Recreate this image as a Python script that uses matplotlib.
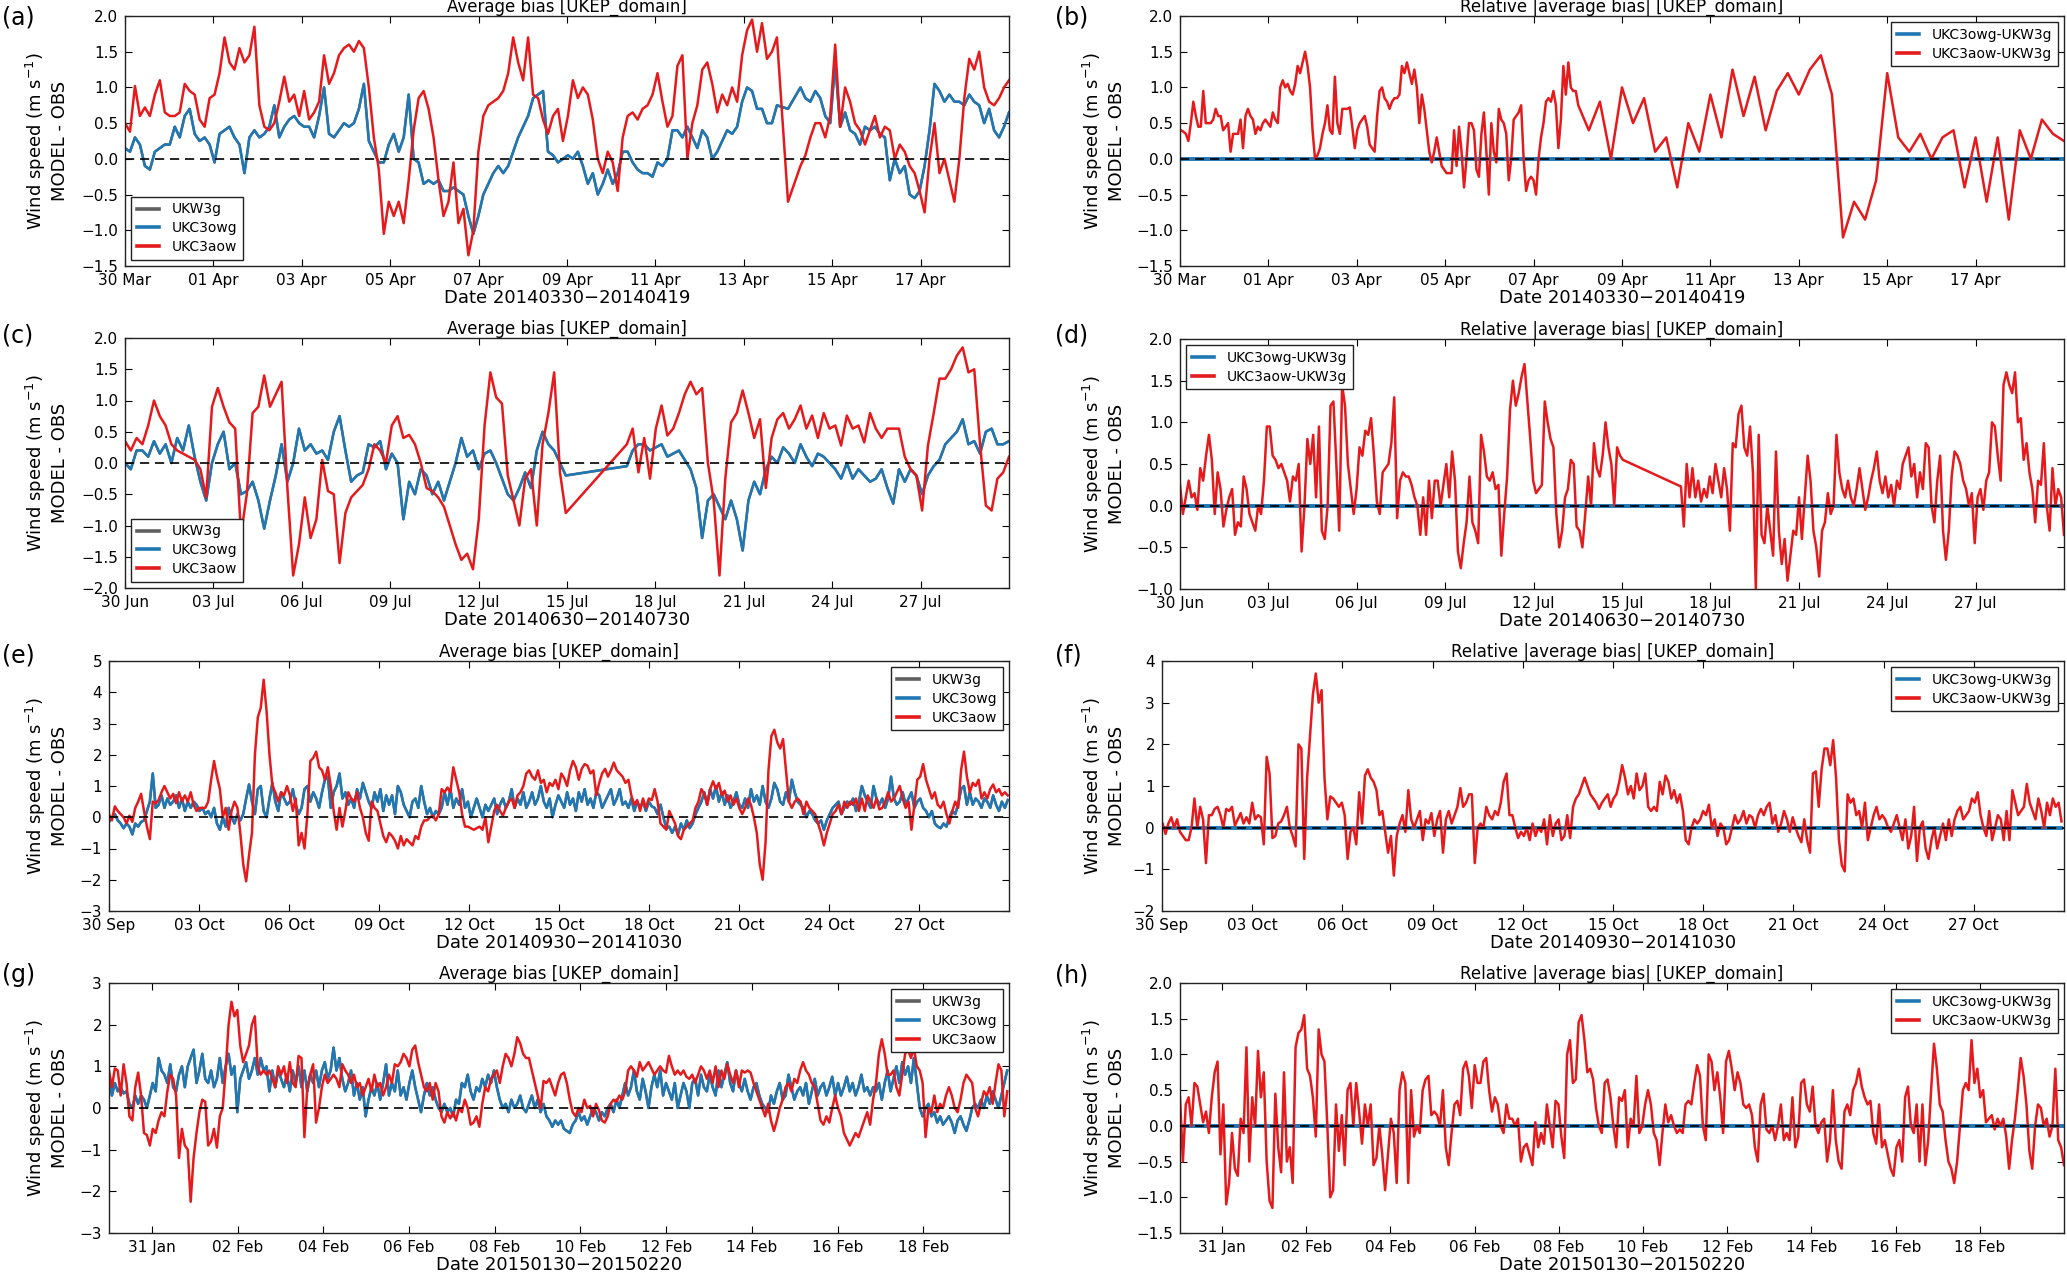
"""Wind-speed bias panels (average bias / relative |average bias|) for four periods."""

import matplotlib

matplotlib.use("Agg")
import matplotlib.dates as mdates
import matplotlib.pyplot as plt
import numpy as np
import pandas as pd
from matplotlib.ticker import MultipleLocator

W, H = 2067, 1272

COLORS = {"UKW3g": "#606060", "UKC3owg": "#1f77b4", "UKC3aow": "#e41a1c"}

# ---- data: domain-average bias (m/s) ----
# each series is a list of reading windows: (first time, last time, evenly spaced values)

# (a)/(b) 30 Mar - 19 Apr 2014
a_owg_1 = [0.15, 0.1, 0.3, 0.2, -0.1, -0.15, 0.1, 0.15, 0.2, 0.2, 0.45, 0.3, 0.6, 0.7, 0.35,
           0.25, 0.3, 0.2, -0.05, 0.35, 0.4, 0.45, 0.3, 0.2, -0.2, 0.3, 0.4, 0.3, 0.35, 0.45,
           0.75, 0.3, 0.45, 0.55, 0.6, 0.5, 0.45, 0.45, 0.3, 0.6, 1.0, 0.35, 0.3, 0.4, 0.5,
           0.45, 0.5, 0.7, 1.05, 0.25, 0.1, -0.05, -0.05, 0.2, 0.35, 0.1, 0.3, 0.9, 0.0, -0.05,
           -0.35, -0.3, -0.35, -0.3, -0.45, -0.45, -0.4, -0.45, -0.5, -0.8, -1.05, -0.8, -0.5,
           -0.35, -0.2, -0.1, -0.2, -0.1, 0.1, 0.3, 0.45, 0.6, 0.85, 0.9, 0.95, 0.1, 0.05,
           -0.05, 0.0, 0.05, 0.0, 0.1, -0.1, -0.35, -0.2, -0.5, -0.35, -0.15, -0.35, -0.2, 0.1,
           0.1, -0.05, -0.15, -0.2, -0.2, -0.25, -0.05, -0.1, 0.0, 0.4, 0.4, 0.3, 0.45, 0.3,
           0.15, 0.4, 0.3, 0.0, 0.1, 0.25, 0.4, 0.35, 0.45, 0.8, 1.0, 0.95, 0.7, 0.7, 0.5,
           0.5, 0.75]
a_owg_2 = [0.7]
a_owg_3 = [1.0, 0.85, 0.8, 0.95, 0.85, 0.6, 0.5, 1.35, 0.45, 0.65, 0.4, 0.35, 0.2, 0.45, 0.4,
           0.45, 0.35, 0.3, -0.3, 0.0, -0.2, -0.1, -0.5, -0.55, -0.45, -0.1, 0.4, 1.05, 0.95,
           0.8, 0.9, 0.8, 0.8, 0.75, 0.9, 0.8, 0.75, 0.5, 0.7, 0.4, 0.3, 0.45, 0.65]
a_aow_1 = [0.5, 0.38, 1.02, 0.6, 0.72, 0.6, 0.9, 1.1, 0.65, 0.6, 0.6, 0.65, 1.05, 0.95, 0.9,
           0.55, 0.45, 0.85, 0.9, 1.2, 1.7, 1.35, 1.25, 1.55, 1.35, 1.45, 1.85, 0.75, 0.45,
           0.4, 0.5, 0.8, 1.15, 0.8, 0.9, 0.6, 0.95, 0.55, 0.65, 0.8, 1.45, 1.05, 1.2, 1.45,
           1.55, 1.6, 1.5, 1.65, 1.55, 1.0, 0.3, -0.15, -1.05, -0.6, -0.8, -0.6, -0.9, -0.3,
           0.4, 0.85, 0.95, 0.7, 0.3, -0.3, -0.8, -0.6, -0.05, -0.9, -0.7, -1.35, -1.0, 0.1,
           0.6, 0.75, 0.8, 0.85, 0.95, 1.2, 1.7, 1.35, 1.1, 1.7, 0.9, 0.85, 0.55, 0.35, 0.6,
           0.7, 0.25, 0.6, 1.1, 0.85, 1.0, 0.9, 0.55, 0.0, -0.2, 0.1, -0.05, -0.45, 0.3, 0.6,
           0.65, 0.55, 0.7, 0.75, 0.9, 1.2, 0.8, 0.45, 0.6, 1.3, 1.45, 0.0, 0.5, 0.75, 1.25,
           1.35, 1.05, 0.65, 0.9, 0.75, 1.0, 0.8, 1.45, 1.8, 1.95, 1.5, 1.9, 1.4, 1.5, 1.7]
a_aow_2 = [-0.6]
a_aow_3 = [-0.1, 0.05, 0.3, 0.5, 0.5, 0.3, 0.6, 1.6, 0.45, 1.0, 0.8, 0.5, 0.4, 0.2, 0.4, 0.6,
           0.3, 0.45, 0.4, 0.0, 0.2, 0.1, -0.1, -0.2, -0.45, -0.75, 0.0, 0.5, -0.2, 0.0, -0.3,
           -0.6, 0.0, 0.85, 1.4, 1.25, 1.5, 1.0, 0.8, 0.75, 0.85, 1.0, 1.1]
b_aow_1 = [0.4, 0.38, 0.35, 0.25, 0.5, 0.8, 0.6, 0.45, 0.45, 0.95, 0.5, 0.5, 0.5, 0.55, 0.7,
           0.6, 0.6, 0.4, 0.45, 0.5, 0.1, 0.35, 0.35, 0.35, 0.55, 0.15, 0.6, 0.7, 0.6, 0.55,
           0.35, 0.45, 0.4, 0.5, 0.55, 0.5, 0.45, 0.65, 0.55, 0.5, 1.0, 1.1, 1.0, 1.05, 0.95,
           0.9, 1.05, 1.3, 1.2, 1.35, 1.5, 1.3, 1.0, 0.4, 0.0, 0.05, 0.15, 0.35, 0.5, 0.75,
           0.4, 0.35, 1.15, 0.5, 0.35, 0.7, 0.7, 0.7, 0.72, 0.45, 0.15, 0.4, 0.5, 0.55, 0.6,
           0.45, 0.2, 0.15, 0.1, 0.6, 0.95, 1.0, 0.85, 0.8, 0.7, 0.8, 0.85, 0.85, 0.9, 1.3,
           1.2, 1.35, 1.2, 1.05, 1.25, 1.0, 0.5, 0.9, 0.7, 0.4, 0.1, -0.05, 0.1, 0.3, 0.1,
           -0.1, -0.15, -0.2, -0.2, -0.2, 0.4, -0.1, 0.45, 0.1, -0.4, 0.0, 0.5, 0.5, 0.4,
           -0.15, -0.25, 0.35, 0.65, 0.1, -0.5, 0.5, 0.1, -0.05, 0.7, 0.55, 0.5, 0.35, -0.3,
           0.0, 0.55, 0.6, 0.65, 0.75, 0.0, -0.45, -0.3, -0.25, -0.3, -0.5, 0.0, 0.3, 0.5,
           0.8, 0.85, 0.8, 0.95, 0.75, 0.15, 0.55, 1.3, 0.9, 1.35, 1.0, 0.95, 0.95, 0.75]
b_aow_2 = [0.4, 0.8, 0.0, 1.0, 0.5, 0.85, 0.1, 0.3, -0.4, 0.5, 0.1, 0.9, 0.3, 1.25, 0.6, 1.15,
           0.4, 0.95, 1.2, 0.9, 1.25, 1.45, 0.9, -1.1, -0.6, -0.85, -0.3, 1.2, 0.3, 0.1, 0.35,
           0.0, 0.3, 0.4, -0.4, 0.3, -0.6, 0.3, -0.85, 0.4, 0.0, 0.55, 0.35, 0.25]

# (c)/(d) 30 Jun - 30 Jul 2014, with no data from 15 Jul to 17 Jul
c_owg_1 = [0.0, -0.1, 0.2, 0.2, 0.1, 0.35, 0.15, 0.3, 0.0, 0.4, 0.2, 0.6, 0.1, -0.3, -0.6, 0.0,
           0.3, 0.5, -0.1, 0.0, -0.5, -0.45, -0.3, -0.6, -1.05, -0.6, -0.2, 0.3, -0.3, 0.0,
           0.55, 0.2, 0.3, 0.15, 0.2, 0.05, 0.5, 0.75, 0.2, -0.3, -0.2, -0.15, 0.3, 0.25, 0.35,
           -0.1, 0.15, 0.0, -0.9, -0.3, -0.5, -0.1, -0.2, -0.5, -0.3, -0.6, -0.3, 0.0, 0.4, 0.1,
           0.2, -0.1, 0.15, 0.2, 0.0, -0.25, -0.5, -0.6, -0.4, -0.15, -0.4, 0.2, 0.5, 0.3, 0.2,
           0.0, -0.2]
c_owg_2 = [-0.05, 0.2, 0.3, 0.3, 0.2, 0.25, 0.3, 0.1, 0.15, 0.2, 0.05, -0.1, -0.4, -1.2, -0.6,
           -0.5, -0.7, -0.9, -0.6, -0.9, -1.4, -0.6, -0.3, -0.5, -0.1, 0.1, 0.0, 0.25, 0.15, 0.0,
           0.3, 0.1, -0.05, 0.15, 0.1, 0.0, -0.1, -0.25, 0.0, -0.25, -0.1, -0.2, -0.3, -0.25,
           -0.1, -0.4, -0.65, -0.1, -0.3, -0.1, -0.2, -0.5, -0.2, -0.05, 0.05, 0.3, 0.4, 0.5,
           0.7, 0.3, 0.35, 0.15, 0.5, 0.55, 0.3, 0.3, 0.35]
c_aow_1 = [0.35, 0.2, 0.4, 0.3, 0.6, 1.0, 0.75, 0.6, 0.3, 0.2, 0.15, 0.1, 0.05, -0.1, -0.55,
           0.9, 1.2, 0.9, 0.65, 0.55, -1.15, -0.5, 0.8, 0.9, 1.4, 0.9, 1.1, 1.3, -0.4, -1.8,
           -1.3, -0.55, -1.2, -0.9, 0.05, -0.45, -0.5, -1.6, -0.8, -0.55, -0.45, -0.35, -0.1,
           0.3, 0.2, 0.0, 0.6, 0.75, 0.4, 0.45, 0.3, 0.0, -0.4, -0.45, -0.55, -0.7, -1.0, -1.3,
           -1.55, -1.45, -1.7, -0.9, 0.6, 1.45, 1.05, 0.95, -0.2, -0.6, -1.0, -0.25, -0.1, -1.0,
           0.3, 0.8, 1.45, -0.15, -0.8]
c_aow_2 = [0.3, 0.55, -0.15, 0.4, -0.25, 0.55, 0.92, 0.44, 0.55, 0.8, 1.1, 1.3, 1.1, 1.2, 0.0,
           -0.6, -1.8, -0.25, 0.65, 0.8, 1.16, 0.8, 0.4, 0.7, -0.4, 0.4, 0.7, 0.8, 0.55, 0.7,
           0.92, 0.55, 0.76, 0.4, 0.8, 0.55, 0.6, 0.28, 0.76, 0.55, 0.6, 0.33, 0.8, 0.55, 0.4,
           0.55, 0.55, 0.55, 0.1, -0.1, -0.2, -0.76, 0.28, 0.8, 1.35, 1.35, 1.5, 1.72, 1.85,
           1.45, 1.5, 0.3, -0.68, -0.76, -0.25, -0.15, 0.1]
d_aow_1 = [0.25, -0.1, 0.1, 0.3, 0.1, 0.15, -0.05, 0.45, 0.3, 0.6, 0.85, 0.55, -0.1, 0.4, 0.2,
           -0.25, -0.05, 0.1, 0.2, -0.35, -0.2, -0.25, 0.35, 0.2, -0.1, -0.2, -0.3, 0.0, -0.1,
           0.3, 0.95, 0.95, 0.6, 0.55, 0.45, 0.5, 0.4, 0.3, 0.05, 0.35, 0.3, 0.5, -0.55, 0.0,
           0.8, 0.5, 0.85, 0.1, 0.95, -0.3, -0.4, 0.0, 1.2, 1.25, 0.5, -0.3, 1.45, 1.2, 0.5,
           0.2, -0.1, 0.2, 0.7, 0.6, 0.9, 0.85, 1.05, 0.6, 0.05, -0.1, 0.4, 0.45, 0.5, 0.75,
           1.3, -0.15, 0.3, 0.4, 0.35, 0.35, 0.25, 0.1, 0.0, -0.35, 0.1, -0.35, 0.3, -0.15,
           0.3, 0.3, 0.0, 0.25, 0.5, 0.1, 0.65, 0.3, -0.55, -0.75, -0.45, -0.2, 0.35, -0.2,
           -0.3, -0.45, 0.85, 0.65, 0.35, 0.3, 0.4, 0.2, 0.25, -0.6, -0.1, 0.35, 1.15, 1.5,
           1.2, 1.35, 1.55, 1.7, 1.25, 0.8, 0.3, 0.15, 0.2, 0.25, 1.25, 1.0, 0.8, 0.7, -0.1,
           -0.5, -0.3, 0.1, 0.2, 0.55, 0.5, -0.25, -0.3, -0.5, -0.1, 0.35, 0.0, 0.75, 0.45,
           0.35, 0.6, 1.0, 0.7, 0.5, 0.0, 0.7, 0.6, 0.55]
d_aow_2 = [0.23, -0.25, 0.5, 0.1, 0.45, 0.1, 0.3, 0.05, 0.2, 0.1, 0.35, 0.15, 0.5, 0.3, 0.1,
           0.45, 0.2, -0.3, 0.75, 0.7, 1.1, 1.2, 0.7, 0.6, 0.95, 0.4, -1.0, 0.85, -0.35, -0.45,
           0.0, -0.3, -0.6, 0.65, -0.3, -0.7, -0.4, -0.9, -0.6, -0.3, -0.35, 0.1, -0.4, 0.1,
           0.6, 0.3, -0.3, -0.5, -0.85, -0.3, -0.2, 0.15, -0.1, 0.0, 0.85, 0.4, 0.2, 0.1, 0.3,
           0.1, 0.0, 0.2, 0.45, 0.2, -0.05, 0.1, 0.3, 0.45, 0.65, 0.3, 0.15, 0.35, 0.1, 0.25,
           0.0, 0.3, 0.2, 0.5, 0.6, 0.7, 0.35, 0.5, 0.1, 0.4, 0.2, 0.75, 0.7, 0.0, -0.2, 0.3,
           0.6, -0.3, -0.65, -0.3, 0.35, 0.65, 0.6, 0.5, 0.3, 0.2, 0.0, 0.15, -0.45, 0.1, 0.2,
           -0.05, 0.3, 0.4, 1.0, 0.95, 0.6, 0.3, 1.45, 1.6, 1.45, 1.35, 1.6, 1.0, 1.05, 0.55,
           0.75, 0.4, 0.2, -0.2, 0.3, 0.25, 0.75, 0.0, -0.3, 0.45, 0.0, 0.2, 0.1, -0.35]

# (e)/(f) 30 Sep - 30 Oct 2014
e_owg = [-0.15, 0.0, 0.1, -0.1, -0.2, -0.35, -0.2, -0.3, -0.55, -0.2, -0.3, -0.15, -0.1, 0.2,
         0.5, 1.4, 0.3, 0.4, 0.7, 0.3, 0.6, 0.4, 0.5, 0.7, 0.3, 0.6, 0.2, 0.5, 0.3, 0.5, 0.4,
         0.2, 0.3, 0.1, 0.2, 0.0, 0.3, -0.2, -0.4, 0.0, -0.3, 0.3, 0.0, -0.2, 0.1, -0.1, 0.1,
         0.6, 1.05, 0.5, 0.1, 0.9, 1.0, 0.2, 0.0, 0.6, 1.1, 0.5, 0.2, 0.8, 0.6, 0.4, 0.5, 0.9,
         0.4, 0.1, 0.3, 0.9, 1.0, 0.5, 0.8, 0.6, 0.3, 0.8, 1.2, 1.3, 0.3, 0.8, 1.0, 1.4, 0.6,
         0.8, 0.4, 0.6, 0.3, 0.9, 0.6, 1.1, 0.8, 0.5, 0.3, 0.8, 0.5, 0.9, 0.2, 0.7, 0.4, 0.7,
         0.1, 1.0, 0.8, 0.4, 0.2, 0.0, 0.5, 0.6, 0.3, 1.0, 0.5, 0.1, 0.3, 0.0, 0.2, 0.1, 0.3,
         0.8, 0.4, 0.9, 0.3, 0.6, 0.4, 0.9, 0.3, 0.5, 0.0, 0.3, 0.6, 0.3, 0.0, 0.4, 0.2, 0.4,
         0.6, 0.1, 0.4, 0.6, 0.3, 0.5, 0.9, 0.3, 0.6, 0.4, 0.8, 0.3, 0.5, 0.8, 0.4, 0.6, 1.0,
         0.5, 0.3, 0.6, 0.0, 0.4, 0.7, 0.5, 0.3, 0.8, 0.4, 0.6, 0.2, 0.8, 0.5, 0.9, 0.4, 0.6,
         0.3, 0.8, 0.7, 0.3, 0.5, 0.7, 0.9, 0.4, 0.6, 0.9, 0.4, 0.5, 0.3, 0.6, 0.2, 0.5, 0.3,
         0.5, 0.2, 0.5, 0.35, 0.3, 0.1, 0.4, 0.0, -0.35, -0.3, -0.5, -0.3, -0.55, -0.2, -0.4,
         -0.1, -0.35, -0.2, 0.1, 0.3, 0.5, 0.8, 0.4, 0.9, 0.6, 1.0, 0.5, 0.8, 0.4, 0.7, 0.3,
         0.5, 0.8, 0.4, 0.3, 0.6, 0.3, 0.9, 0.5, 0.7, 0.4, 1.0, 0.5, 0.3, 0.6, 1.1, 0.9, 0.5,
         0.4, 0.8, 0.5, 1.2, 0.8, 0.5, 0.4, 0.3, 0.0, 0.2, 0.1, -0.1, -0.2, -0.1, -0.4, -0.1,
         0.1, 0.3, 0.4, 0.5, 0.1, 0.3, 0.5, 0.4, 0.6, 0.2, 0.5, 1.0, 0.7, 0.5, 0.3, 1.0, 0.6,
         0.4, 0.6, 0.3, 0.6, 1.3, 0.6, 0.4, 0.5, 0.8, 0.4, 0.6, 0.8, 0.3, 0.5, 0.6, 0.3, 0.2,
         0.0, 0.2, -0.2, -0.3, -0.35, -0.2, -0.3, 0.0, 0.2, 0.1, 0.4, 0.9, 1.0, 0.4, 0.8, 0.4,
         0.6, 0.5, 0.3, 0.6, 0.5, 0.3, 0.7, 0.4, 0.2, 0.5, 0.3, 0.55]
e_aow = [0.1, -0.1, 0.35, 0.2, 0.1, 0.0, -0.2, 0.05, -0.15, 0.3, 0.5, 0.75, 0.2, -0.3, -0.7,
         0.5, 0.45, 0.55, 0.8, 1.0, 0.8, 0.6, 0.75, 0.45, 0.8, 0.5, 0.7, 0.5, 0.8, 0.4, 0.2,
         0.3, 0.3, 0.3, 0.5, 1.2, 1.8, 1.3, 0.9, 0.0, 0.3, -0.4, 0.2, 0.5, 0.3, -0.5, -1.5,
         -2.05, -1.2, -0.5, 2.0, 3.2, 3.5, 4.4, 3.4, 2.0, 1.0, 0.8, 0.5, 0.8, 0.7, 1.0, 0.7,
         0.2, 0.6, -0.9, -0.5, -1.0, 0.1, 1.8, 1.9, 2.1, 1.6, 1.5, 1.2, 1.6, 1.0, 0.2, -0.4,
         0.3, -0.3, 0.2, 0.8, 0.6, 0.5, 0.8, 0.3, 0.0, -0.5, -0.75, 0.5, 0.3, 0.2, -0.2, -0.6,
         -0.8, -0.5, -0.6, -0.75, -1.0, -0.6, -0.9, -0.7, -0.8, -0.9, -0.6, -0.7, -0.3, -0.1,
         -0.1, 0.0, 0.05, -0.1, 0.1, 0.9, 0.8, 0.95, 0.8, 1.6, 1.2, 0.8, 0.1, -0.3, -0.3,
         -0.35, -0.4, -0.35, -0.3, -0.4, 0.0, -0.8, -0.3, 0.2, 0.4, 0.2, 0.05, 0.3, 0.5, 0.6,
         0.3, 0.7, 0.8, 1.0, 1.4, 1.5, 1.3, 1.2, 1.5, 1.1, 1.2, 0.8, 1.1, 1.0, 1.2, 0.9, 1.4,
         1.25, 1.0, 1.5, 1.8, 1.6, 1.2, 1.55, 1.7, 1.65, 1.4, 1.5, 0.7, 1.1, 1.4, 1.55, 1.3,
         1.5, 1.75, 1.5, 1.4, 1.3, 1.1, 1.2, 0.7, 0.4, 0.55, 0.2, 0.6, 0.3, 0.6, 0.55, 0.9,
         0.5, -0.2, -0.3, -0.4, 0.2, 0.0, -0.2, -0.6, -0.7, -0.4, -0.3, -0.2, -0.1, 0.3, 0.5,
         0.9, 0.75, 0.4, 0.9, 1.15, 0.9, 1.1, 0.7, 0.85, 0.5, 0.7, 0.4, 0.6, 0.3, 0.1, 0.3,
         0.6, 0.4, 0.0, -0.5, -1.5, -2.0, -0.8, 1.5, 2.6, 2.8, 2.4, 2.2, 2.5, 1.5, 0.5, 0.3,
         0.5, 0.6, 0.5, 0.1, 0.5, 0.3, 0.2, 0.1, -0.2, -0.5, -0.9, -0.5, -0.2, 0.1, 0.2, 0.4,
         0.1, 0.5, 0.3, 0.5, 0.4, 0.6, 0.2, 0.6, 0.2, 0.7, 0.5, 0.3, 0.6, 0.25, 0.3, 0.5, 0.8,
         0.5, 0.6, 0.8, 1.0, 0.6, 0.3, 0.5, -0.4, 0.4, 1.2, 1.3, 1.7, 1.2, 0.9, 0.6, 0.8, 0.4,
         0.3, 0.5, 0.1, -0.2, 0.2, 0.5, 0.3, 1.5, 2.1, 1.3, 0.8, 1.1, 1.0, 1.2, 0.6, 0.8, 0.6,
         0.9, 1.05, 0.8, 0.9, 0.7, 0.8, 0.7]
f_aow = [0.1, -0.15, 0.1, 0.25, 0.0, 0.2, -0.1, -0.2, -0.3, -0.3, 0.0, 0.7, 0.0, 0.5, 0.2,
         -0.85, 0.3, 0.3, 0.45, 0.5, 0.3, 0.0, 0.45, 0.4, 0.5, 0.05, 0.2, 0.35, 0.1, 0.25,
         0.1, 0.6, 0.2, 0.3, 0.25, -0.4, 1.7, 1.3, -0.25, -0.2, 0.1, 0.15, 0.3, 0.5, 0.0,
         -0.2, -0.45, 2.0, 1.9, -0.75, 1.2, 2.2, 3.2, 3.7, 3.0, 3.3, 1.2, 0.2, 0.75, 0.7, 0.6,
         0.5, 0.6, 0.3, -0.75, -0.1, 0.0, -0.4, 0.85, 0.1, 1.25, 1.4, 1.2, 1.1, 0.9, 0.3, 0.4,
         -0.1, -0.6, -0.2, -1.15, -0.2, 0.1, 0.3, -0.1, 0.9, 0.2, 0.0, 0.2, 0.4, -0.3, 0.2,
         0.1, 0.35, -0.2, 0.2, 0.4, -0.6, 0.2, 0.4, 0.1, 0.3, 0.5, 0.95, 0.5, 0.6, 0.8, 0.8,
         -0.85, 0.0, 0.1, 0.0, 0.5, 0.3, 0.2, 0.4, 0.3, 0.6, 1.1, 1.3, 0.3, 0.3, 0.0, -0.25,
         -0.1, -0.2, 0.0, -0.3, 0.1, -0.2, 0.0, -0.1, 0.2, -0.4, 0.3, -0.2, 0.1, 0.2, -0.3,
         -0.2, 0.3, -0.25, 0.5, 0.7, 0.8, 1.0, 1.2, 1.0, 0.8, 0.7, 0.6, 0.45, 0.6, 0.7, 0.8,
         0.5, 0.7, 0.8, 1.1, 1.5, 1.2, 0.8, 1.0, 0.7, 1.3, 0.9, 1.0, 1.3, 0.5, 0.4, 0.5, 0.4,
         1.1, 0.8, 1.25, 1.1, 0.7, 0.9, 0.6, 0.8, 0.4, -0.3, -0.4, 0.0, 0.2, 0.1, 0.2, 0.4,
         0.3, 0.55, 0.0, 0.2, -0.2, 0.1, 0.0, -0.4, -0.3, 0.0, 0.3, 0.1, 0.2, 0.4, 0.1, 0.3,
         0.25, 0.0, 0.3, 0.45, 0.3, 0.5, 0.6, 0.1, 0.3, -0.1, 0.1, 0.4, 0.2, -0.1, 0.25, 0.0,
         -0.2, -0.35, 0.2, -0.3, -0.6, 1.3, 1.35, 0.5, 1.4, 1.9, 1.9, 1.5, 2.1, 1.2, -0.3,
         -0.9, -1.05, 0.8, 0.6, 0.7, 0.3, 0.4, 0.0, 0.6, -0.3, 0.0, 0.3, 0.5, 0.2, 0.3, 0.2,
         0.0, -0.1, 0.1, 0.3, 0.0, -0.3, 0.2, -0.5, -0.2, 0.5, -0.8, 0.0, 0.15, -0.5, -0.75,
         -0.3, 0.0, -0.5, -0.2, 0.1, -0.3, 0.2, -0.2, 0.2, 0.4, 0.5, 0.2, 0.3, 0.4, 0.7, 0.6,
         0.85, 0.3, 0.0, -0.2, 0.4, -0.3, 0.0, 0.3, 0.2, -0.3, 0.4, -0.3, 0.9, 0.6, 0.3, 0.4,
         0.5, 1.05, 0.6, 0.4, 0.2, 0.7, 0.4, 0.0, 0.6, 0.3, 0.7, 0.5, 0.6, 0.15]

# (g)/(h) 30 Jan - 20 Feb 2015
g_owg = [0.8, 0.3, 0.6, 0.4, 0.5, 0.35, 0.4, 0.1, 0.0, 0.3, 0.1, 0.3, 0.2, 0.0, 0.3, 0.6, 0.4,
         1.2, 0.9, 0.8, 0.6, 1.05, 0.5, 0.4, 0.8, 1.0, 0.5, 1.0, 1.2, 1.4, 0.6, 0.9, 1.3, 0.7,
         0.6, 0.9, 0.5, 0.7, 1.2, 0.6, 1.0, 1.3, 0.8, 1.0, -0.1, 0.7, 0.9, 1.1, 0.7, 0.9, 1.2,
         0.8, 1.2, 0.9, 1.0, 0.4, 0.9, 0.5, 0.9, 0.7, 0.5, 0.8, 0.4, 0.9, 0.6, 1.0, 0.5, 0.9,
         0.4, 0.8, 0.6, 0.9, 0.5, 0.9, 1.1, 0.7, 0.9, 1.45, 0.9, 1.2, 0.7, 0.4, 0.6, 0.9, 0.3,
         0.6, 0.2, 0.5, -0.2, 0.2, 0.5, 0.3, 0.6, 0.2, 0.6, 1.05, 0.3, 0.6, 0.4, 0.9, 0.3, 0.5,
         0.2, 0.6, 0.9, 0.5, 0.2, -0.1, 0.3, 0.6, 0.3, 0.5, 0.2, 0.0, -0.1, 0.1, -0.1, 0.0,
         -0.2, 0.2, 0.1, 0.6, 0.5, 0.8, 0.4, 0.2, 0.5, 0.4, 0.7, 0.5, 0.8, 0.6, 0.9, 0.5, 0.2,
         0.0, 0.1, -0.1, 0.2, 0.0, 0.1, 0.3, 0.0, -0.1, 0.1, 0.3, 0.0, 0.2, -0.1, 0.1, -0.2,
         -0.3, -0.45, -0.3, -0.4, -0.3, -0.5, -0.55, -0.6, -0.4, -0.3, -0.1, -0.3, -0.2, -0.4,
         -0.2, 0.0, -0.1, -0.3, -0.1, -0.2, 0.0, 0.1, -0.1, 0.2, 0.0, 0.3, 0.6, 0.3, 0.5, 0.9,
         0.4, 0.2, 0.7, 0.4, 0.0, 0.5, 0.8, 0.5, 0.9, 0.3, 0.6, 0.4, 0.2, 0.6, 0.0, 0.3, 0.6,
         0.4, 0.0, 0.6, 0.7, 0.3, 0.8, 0.5, 0.4, 0.8, 0.5, 0.3, 0.9, 0.5, 0.8, 1.1, 0.6, 0.4,
         0.9, 0.6, 0.4, 0.7, 0.4, 0.2, 0.5, 0.6, 0.3, 0.1, 0.0, -0.1, 0.3, 0.1, 0.4, 0.6, 0.2,
         0.3, 0.8, 0.5, 0.2, 0.4, 0.5, 0.3, 0.6, 0.1, 0.4, 0.7, 0.3, 0.5, 0.6, 0.3, 0.5, 0.75,
         0.3, 0.6, 0.3, 0.5, 0.75, 0.4, 0.6, 0.3, 0.5, 0.8, 0.4, 0.5, 0.3, 0.5, 0.4, 0.6, 0.2,
         0.6, 0.9, 0.4, 0.7, 1.0, 0.6, 1.1, 0.8, 1.0, 0.6, 1.2, 0.6, 0.0, -0.2, 0.0, 0.1,
         -0.2, -0.1, -0.35, -0.2, -0.4, -0.3, -0.2, -0.35, -0.6, -0.3, -0.2, -0.4, -0.55, -0.3,
         0.0, 0.1, 0.0, 0.2, 0.0, 0.3, 0.1, 0.4, 0.2, 0.0, 0.3, 0.6, 0.9]
g_aow = [0.9, 0.5, 0.95, 0.9, 0.3, 1.05, 0.6, -0.2, -0.3, 0.5, 0.85, 0.3, -0.6, -0.65, -0.9,
         -0.5, -0.6, -0.3, -0.1, -0.2, 0.4, 0.8, 0.7, 0.3, -1.2, -0.5, -0.9, -1.0, -2.25, -1.2,
         -0.6, -0.1, 0.2, 0.15, -0.9, -0.8, -0.5, -0.95, -0.2, 0.0, 0.9, 2.0, 2.55, 2.2, 2.35,
         1.5, 1.1, 1.3, 1.5, 2.0, 2.2, 1.0, 0.8, 0.9, 0.8, 0.9, 0.7, 0.5, 1.0, 0.8, 1.0, 0.6,
         1.1, 0.6, 0.5, 1.25, 1.2, -0.7, 0.5, 0.8, 1.05, -0.35, 0.0, 0.5, 0.8, 0.6, 0.7, 0.8,
         0.7, 0.5, 1.05, 0.9, 0.8, 0.6, 0.8, 0.5, 0.6, 0.3, 0.5, 0.7, 0.4, 0.8, 0.5, 0.6, 0.3,
         0.5, 0.8, 0.6, 1.05, 1.0, 1.1, 1.3, 1.2, 1.0, 1.4, 1.5, 1.1, 0.8, 0.5, 0.4, 0.6, 0.2,
         0.6, 0.4, -0.2, -0.35, -0.1, -0.25, -0.1, -0.3, 0.0, -0.1, 0.2, 0.0, -0.4, -0.35,
         -0.2, -0.45, 0.1, 0.5, 0.4, 0.7, 0.8, 0.9, 0.6, 1.0, 1.3, 1.2, 1.0, 1.3, 1.7, 1.55,
         1.3, 1.2, 1.2, 0.9, 0.6, 0.3, 0.0, 0.65, 0.6, 0.7, 0.5, 0.3, 0.6, 0.8, 0.85, 0.6, 0.2,
         -0.1, -0.2, 0.0, -0.1, 0.2, 0.0, 0.05, -0.2, 0.1, -0.05, -0.3, -0.35, -0.2, 0.1, 0.2,
         0.15, 0.3, 0.2, 0.4, 0.9, 1.0, 0.9, 0.75, 1.1, 0.9, 1.0, 1.1, 0.95, 0.8, 0.9, 1.0,
         0.9, 0.85, 1.25, 1.0, 0.8, 0.9, 0.8, 0.9, 0.75, 0.7, 0.8, 0.6, 0.8, 1.0, 0.9, 0.7,
         0.9, 0.6, 1.0, 0.5, 0.9, 0.7, 1.05, 0.8, 0.6, 0.9, 0.5, 0.9, 0.85, 0.9, 0.85, 0.6,
         0.4, 0.2, 0.0, -0.2, 0.1, -0.3, -0.55, -0.3, 0.0, 0.2, 0.5, 0.6, 0.4, 0.7, 0.6, 0.9,
         1.1, 0.9, 0.8, 0.6, 0.5, 0.1, -0.3, -0.4, -0.2, -0.35, 0.0, 0.3, 0.0, -0.2, -0.6,
         -0.75, -0.9, -0.75, -0.6, -0.7, -0.5, -0.3, -0.1, -0.4, 0.2, 0.6, 1.3, 1.65, 1.3, 0.8,
         0.8, 0.9, 0.5, 0.3, 0.8, 1.3, 1.4, 1.2, 1.45, 1.0, 0.9, 0.6, -0.7, 0.0, -0.1, 0.3,
         -0.1, 0.1, 0.0, 0.3, 0.5, 0.3, 0.0, -0.1, 0.2, 0.6, 0.8, 0.7, 0.6, 0.0, -0.2, 0.1,
         0.4, 0.3, 0.5, 0.1, 0.6, 1.05, 0.9, -0.2, 0.4]
h_aow = [0.4, -0.5, 0.3, 0.4, 0.0, 0.6, 0.55, 0.3, 0.05, 0.2, -0.1, 0.4, 0.75, 0.9, -0.4, 0.3,
         -1.1, -0.8, -0.1, -0.6, -0.7, 0.1, -0.1, 1.1, -0.5, 0.4, 0.0, 1.05, 0.4, 0.75, -0.5,
         -1.05, -1.15, 0.45, -0.3, -0.65, 0.75, -0.5, -0.3, -0.8, 1.1, 1.3, 1.35, 1.55, 0.8,
         0.7, 0.4, -0.15, 1.35, 1.0, 0.9, 0.0, -1.0, -0.9, 0.3, -0.35, 0.15, -0.55, 0.5, 0.6,
         0.0, 0.6, 0.2, -0.25, 0.3, 0.0, 0.3, -0.55, -0.45, 0.0, -0.4, -0.9, -0.4, 0.1, -0.1,
         -0.8, 0.5, 0.75, 0.6, -0.8, 0.5, -0.15, 0.0, -0.1, 0.5, 0.65, 0.7, 0.15, 0.2, 0.15,
         0.0, 0.5, -0.3, -0.55, -0.1, 0.3, 0.35, 0.15, 0.8, 0.9, 0.7, 0.25, 0.85, 0.6, 0.6,
         0.9, 0.95, 0.5, 0.2, 0.4, 0.3, 0.0, -0.1, 0.3, 0.1, 0.1, 0.0, 0.1, -0.5, -0.3, -0.25,
         -0.4, -0.55, 0.05, -0.3, -0.1, -0.25, 0.3, 0.0, -0.3, 0.35, 0.3, -0.15, -0.45, 1.0,
         1.2, 0.6, 0.65, 1.45, 1.55, 1.2, 0.75, 0.8, 0.65, 0.25, 0.0, -0.1, 0.6, 0.65, 0.4,
         0.0, -0.3, 0.4, 0.35, 0.5, -0.3, 0.1, 0.0, 0.7, -0.1, 0.0, 0.3, 0.5, 0.3, -0.1, -0.2,
         -0.55, -0.1, 0.3, 0.05, 0.15, 0.0, -0.1, -0.05, -0.1, 0.3, 0.35, 0.3, 0.6, 0.85, 0.7,
         0.0, -0.2, 1.0, 0.9, 0.5, 0.75, 0.4, -0.1, 0.9, 1.05, 0.8, 0.5, 0.75, 0.6, 0.3, 0.25,
         0.3, 0.15, -0.3, -0.5, 0.3, 0.45, -0.05, -0.1, 0.0, -0.2, 0.0, 0.3, -0.2, -0.1, -0.2,
         0.4, -0.3, -0.15, 0.6, 0.65, 0.3, 0.2, 0.55, 0.0, -0.1, 0.05, 0.1, -0.5, -0.2, 0.5,
         -0.2, -0.5, -0.6, 0.2, 0.3, 0.15, 0.5, 0.6, 0.8, 0.55, 0.4, 0.3, 0.35, -0.1, -0.25,
         0.3, -0.3, -0.2, -0.4, -0.6, -0.7, -0.3, -0.2, -0.5, 0.4, 0.55, 0.0, -0.1, 0.3, -0.5,
         0.3, -0.55, -0.2, 0.5, 1.15, 0.8, 0.3, 0.2, -0.2, -0.5, -0.6, -0.8, -0.5, 0.0, 0.5,
         0.6, 0.5, 1.2, 0.6, 0.8, 0.4, 0.5, 0.05, 0.1, 0.15, -0.05, 0.1, 0.0, 0.1, -0.15, -0.6,
         -0.2, 0.1, 0.5, 0.95, 0.7, 0.3, -0.35, -0.6, 0.0, 0.3, 0.25, 0.0, 0.1, -0.15, 0.0,
         0.8, -0.2, -0.3, -0.55]

LEFT = [
    ([("2014-03-30 00:00", "2014-04-13 18:00", a_owg_1), ("2014-04-14 00:00", "2014-04-14 00:00", a_owg_2),
      ("2014-04-14 06:45", "2014-04-19 00:00", a_owg_3)],
     [("2014-03-30 00:00", "2014-04-13 18:00", a_aow_1), ("2014-04-14 00:00", "2014-04-14 00:00", a_aow_2),
      ("2014-04-14 06:45", "2014-04-19 00:00", a_aow_3)]),
    ([("2014-06-30 00:00", "2014-07-14 23:00", c_owg_1), ("2014-07-17 00:45", "2014-07-30 00:00", c_owg_2)],
     [("2014-06-30 00:00", "2014-07-14 23:00", c_aow_1), ("2014-07-17 00:45", "2014-07-30 00:00", c_aow_2)]),
    ([("2014-09-30 00:00", "2014-10-29 23:00", e_owg)],
     [("2014-09-30 00:00", "2014-10-29 23:00", e_aow)]),
    ([("2015-01-30 00:00", "2015-02-19 23:00", g_owg)],
     [("2015-01-30 00:00", "2015-02-19 23:00", g_aow)]),
]
RIGHT = [
    [("2014-03-30 00:30", "2014-04-08 00:15", b_aow_1), ("2014-04-08 06:00", "2014-04-19 00:00", b_aow_2)],
    [("2014-06-30 00:00", "2014-07-15 00:45", d_aow_1), ("2014-07-17 00:00", "2014-07-30 00:00", d_aow_2)],
    [("2014-09-30 00:30", "2014-10-29 22:00", f_aow)],
    [("2015-01-30 00:00", "2015-02-20 00:00", h_aow)],
]

PERIODS = [
    # start, end, first tick, last tick, tick step, label
    ("2014-03-30", "2014-04-19", "2014-03-30", "2014-04-17", "2D", "20140330\u221220140419"),
    ("2014-06-30", "2014-07-30", "2014-06-30", "2014-07-27", "3D", "20140630\u221220140730"),
    ("2014-09-30", "2014-10-30", "2014-09-30", "2014-10-27", "3D", "20140930\u221220141030"),
    ("2015-01-30", "2015-02-20", "2015-01-31", "2015-02-18", "2D", "20150130\u221220150220"),
]

# panel boxes in pixels: left, top, right, bottom
LEFT_BOX = [(125, 16, 1009, 266), (125, 338, 1009, 588), (109, 661, 1009, 911), (109, 983, 1009, 1233)]
RIGHT_BOX = [(1180, 16, 2064, 266), (1180, 339, 2064, 589), (1162, 661, 2064, 911), (1180, 983, 2064, 1233)]
LEFT_YLIM = [(-1.5, 2.0, 0.5), (-2.0, 2.0, 0.5), (-3, 5, 1), (-3, 3, 1)]
RIGHT_YLIM = [(-1.5, 2.0, 0.5), (-1.0, 2.0, 0.5), (-2, 4, 1), (-1.5, 2.0, 0.5)]
LEFT_LEG = ["lower left", "lower left", "upper right", "upper right"]
RIGHT_LEG = ["upper right", "upper left", "upper right", "upper right"]
LETTERS = "abcdefgh"
LABEL_Y = [18, 336, 655, 975]


def _style():
    plt.rcParams.update(
        {
            "font.family": "DejaVu Sans",
            "xtick.direction": "in",
            "ytick.direction": "in",
            "xtick.top": True,
            "ytick.right": True,
            "xtick.major.size": 5,
            "ytick.major.size": 5,
            "xtick.labelsize": 11,
            "ytick.labelsize": 11,
            "axes.linewidth": 1.0,
            "axes.edgecolor": "#222222",
            "legend.fontsize": 10,
        }
    )


def _series(windows):
    """Join reading windows into one time series; the line simply bridges the gaps between them."""
    parts = []
    for start, end, values in windows:
        if len(values) == 1:
            index = pd.DatetimeIndex([pd.Timestamp(start)])
        else:
            index = pd.date_range(start, end, periods=len(values))
        parts.append(pd.Series(values, index=index, dtype=float))
    s = pd.concat(parts)
    return s.index.to_pydatetime(), s.to_numpy()


def _axes(fig, box):
    l, t, r, b = box
    return fig.add_axes([l / W, 1 - b / H, (r - l) / W, (b - t) / H])


def _frame(ax, box, period, ylim, label_right_px):
    start, end, t0, t1, step, label = period
    ax.set_xlim(pd.Timestamp(start).to_pydatetime(), pd.Timestamp(end).to_pydatetime())
    ax.set_xticks(pd.date_range(t0, t1, freq=step).to_pydatetime())
    ax.xaxis.set_major_formatter(mdates.DateFormatter("%d %b"))
    ax.set_ylim(ylim[0], ylim[1])
    ax.yaxis.set_major_locator(MultipleLocator(ylim[2]))
    ax.tick_params(pad=5)
    ax.axhline(0.0, color="black", linestyle=(0, (5.5, 3.5)), linewidth=1.2, zorder=4)
    ax.set_xlabel("Date " + label, fontsize=13, labelpad=1)
    ax.set_ylabel("Wind speed (m s$^{-1}$)\nMODEL - OBS", fontsize=13)
    l, _, r, _ = box
    ax.yaxis.set_label_coords((label_right_px - l) / (r - l), 0.5)


def _legend(ax, loc):
    leg = ax.legend(loc=loc, fancybox=False, framealpha=1.0, edgecolor="#222222",
                    labelspacing=0.35, handlelength=1.6, handletextpad=0.9,
                    borderaxespad=0.45, borderpad=0.4)
    leg.get_frame().set_linewidth(1.0)
    for line in leg.get_lines():
        line.set_linewidth(2.6)


def main():
    _style()
    fig = plt.figure(figsize=(W / 100, H / 100), dpi=100)
    for row in range(4):
        period = PERIODS[row]
        owg, aow = LEFT[row]

        ax = _axes(fig, LEFT_BOX[row])
        t_o, v_o = _series(owg)
        t_a, v_a = _series(aow)
        # UKW3g coincides with UKC3owg, so the grey line sits underneath the blue one
        ax.plot(t_o, v_o, color=COLORS["UKW3g"], linewidth=1.8, label="UKW3g")
        ax.plot(t_o, v_o, color=COLORS["UKC3owg"], linewidth=1.8, label="UKC3owg")
        ax.plot(t_a, v_a, color=COLORS["UKC3aow"], linewidth=1.8, label="UKC3aow")
        _frame(ax, LEFT_BOX[row], period, LEFT_YLIM[row], 69)
        ax.set_title("Average bias [UKEP_domain]", fontsize=12, pad=3)
        _legend(ax, LEFT_LEG[row])

        ax = _axes(fig, RIGHT_BOX[row])
        t_r, v_r = _series(RIGHT[row])
        ax.plot(t_r, np.zeros(len(t_r)), color=COLORS["UKC3owg"], linewidth=2.8,
                label="UKC3owg-UKW3g")
        ax.plot(t_r, v_r, color=COLORS["UKC3aow"], linewidth=1.8, label="UKC3aow-UKW3g")
        _frame(ax, RIGHT_BOX[row], period, RIGHT_YLIM[row], 1126)
        ax.set_title("Relative |average bias| [UKEP_domain]", fontsize=12, pad=3)
        _legend(ax, RIGHT_LEG[row])

        y = 1 - LABEL_Y[row] / H
        fig.text(2 / W, y, f"({LETTERS[2 * row]})", fontsize=17, va="center", ha="left")
        fig.text(1055 / W, y, f"({LETTERS[2 * row + 1]})", fontsize=17, va="center", ha="left")

    fig.savefig("out.png", dpi=100)
    plt.close(fig)


if __name__ == "__main__":
    main()
